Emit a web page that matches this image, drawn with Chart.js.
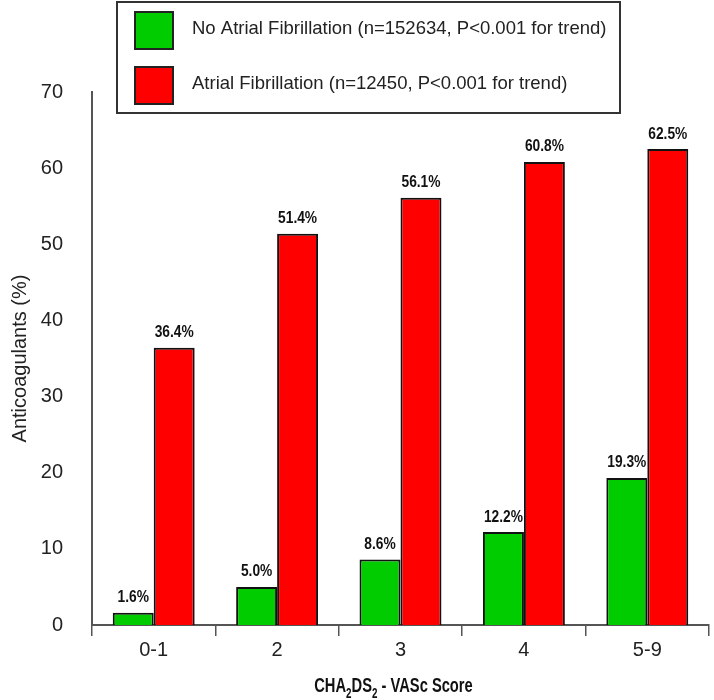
<!DOCTYPE html>
<html>
<head>
<meta charset="utf-8">
<script src="https://cdn.jsdelivr.net/npm/chart.js@4.4.0/dist/chart.umd.min.js"></script>
<style>
  html, body { margin: 0; padding: 0; background: #fff; }
  #wrap { width: 714px; height: 700px; position: relative; }
</style>
</head>
<body>
<div id="wrap"><canvas id="afChart"></canvas></div>
<script>
const categories = ['0-1', '2', '3', '4', '5-9'];
const noAfValues = [1.6, 5.0, 8.6, 12.2, 19.3];
const afValues = [36.4, 51.4, 56.1, 60.8, 62.5];
const seriesLabels = [
    'No Atrial Fibrillation (n=152634, P<0.001 for trend)',
    'Atrial Fibrillation (n=12450, P<0.001 for trend)'
];
const seriesColors = ['#00cc00', '#ff0000'];

const bodyFont = "'Liberation Sans', Arial, sans-serif";
// no condensed face installed, so squeeze the bold one horizontally
const squeeze = 0.86;

// value labels on top of each bar
const barLabels = {
    id: 'barLabels',
    afterDatasetsDraw(chart) {
        const ctx = chart.ctx;
        ctx.font = 'bold 16px ' + bodyFont;
        ctx.fillStyle = '#111';
        ctx.textAlign = 'center';
        ctx.textBaseline = 'bottom';
        chart.data.datasets.forEach((ds, i) => {
            chart.getDatasetMeta(i).data.forEach((bar, j) => {
                ctx.save();
                ctx.translate(bar.x, bar.y - 7);
                ctx.scale(squeeze, 1);
                ctx.fillText(ds.data[j].toFixed(1) + '%', 0, 0);
                ctx.restore();
            });
        });
    }
};

// boxed legend sitting over the top of the plot
const boxLegend = {
    id: 'boxLegend',
    afterDraw(chart) {
        const ctx = chart.ctx;
        ctx.save();
        ctx.fillStyle = '#fff';
        ctx.fillRect(117, 2, 503, 111);
        ctx.lineWidth = 2;
        ctx.strokeStyle = '#333';
        ctx.strokeRect(117, 2, 503, 111);
        ctx.font = '18.5px ' + bodyFont;
        ctx.textBaseline = 'middle';
        ctx.textAlign = 'left';
        chart.data.datasets.forEach((ds, i) => {
            const top = 12 + i * 55;
            ctx.fillStyle = ds.backgroundColor;
            ctx.fillRect(135, top, 38, 37);
            ctx.strokeStyle = '#222';
            ctx.strokeRect(135, top, 38, 37);
            ctx.fillStyle = '#222';
            ctx.fillText(ds.label, 192, top + 17);
        });
        ctx.restore();
    }
};

// x axis title with subscripts
const xTitle = {
    id: 'xTitle',
    afterDraw(chart) {
        const ctx = chart.ctx;
        const parts = [['CHA', false], ['2', true], ['DS', false], ['2', true], [' - VASc Score', false]];
        const big = 'bold 21px ' + bodyFont;
        const small = 'bold 14px ' + bodyFont;
        const k = 0.7;
        ctx.save();
        let total = 0;
        parts.forEach(p => { ctx.font = p[1] ? small : big; total += ctx.measureText(p[0]).width; });
        const cx = (chart.chartArea.left + chart.chartArea.right) / 2 - 7;
        ctx.translate(cx - total * k / 2, 692);
        ctx.scale(k, 1);
        ctx.fillStyle = '#111';
        ctx.textBaseline = 'alphabetic';
        ctx.textAlign = 'left';
        let x = 0;
        parts.forEach(p => {
            ctx.font = p[1] ? small : big;
            ctx.fillText(p[0], x, p[1] ? 6 : 0);
            x += ctx.measureText(p[0]).width;
        });
        ctx.restore();
    }
};

const ctx = document.getElementById('afChart').getContext('2d');
new Chart(ctx, {
    type: 'bar',
    data: {
        labels: categories,
        datasets: [
            {
                label: seriesLabels[0],
                data: noAfValues,
                backgroundColor: seriesColors[0],
                borderColor: '#111',
                borderWidth: 2
            },
            {
                label: seriesLabels[1],
                data: afValues,
                backgroundColor: seriesColors[1],
                borderColor: '#111',
                borderWidth: 2
            }
        ]
    },
    options: {
        responsive: true,
        maintainAspectRatio: false,
        animation: false,
        devicePixelRatio: 1,
        layout: { padding: { top: 92, right: 5, bottom: 0, left: 0 } },
        datasets: { bar: { categoryPercentage: 0.664, barPercentage: 1 } },
        plugins: {
            legend: { display: false },
            tooltip: { enabled: false }
        },
        scales: {
            x: {
                afterFit: s => { s.height = 75; },
                grid: {
                    display: true,
                    drawOnChartArea: false,
                    drawTicks: true,
                    tickLength: 11,
                    color: '#555',
                    lineWidth: 1.5,
                    offset: true
                },
                border: { display: true, color: '#555', width: 2 },
                ticks: { color: '#222', padding: 2, font: { family: bodyFont, size: 20 } }
            },
            y: {
                min: 0,
                max: 70,
                afterFit: s => { s.width = 92; },
                grid: { display: false },
                border: { display: true, color: '#555', width: 2 },
                ticks: { stepSize: 10, color: '#222', padding: 21, font: { family: bodyFont, size: 20 } },
                title: {
                    display: true,
                    text: 'Anticoagulants (%)',
                    color: '#222',
                    padding: { top: 8, bottom: 0 },
                    font: { family: bodyFont, size: 20 }
                }
            }
        }
    },
    plugins: [barLabels, boxLegend, xTitle]
});
</script>
</body>
</html>
